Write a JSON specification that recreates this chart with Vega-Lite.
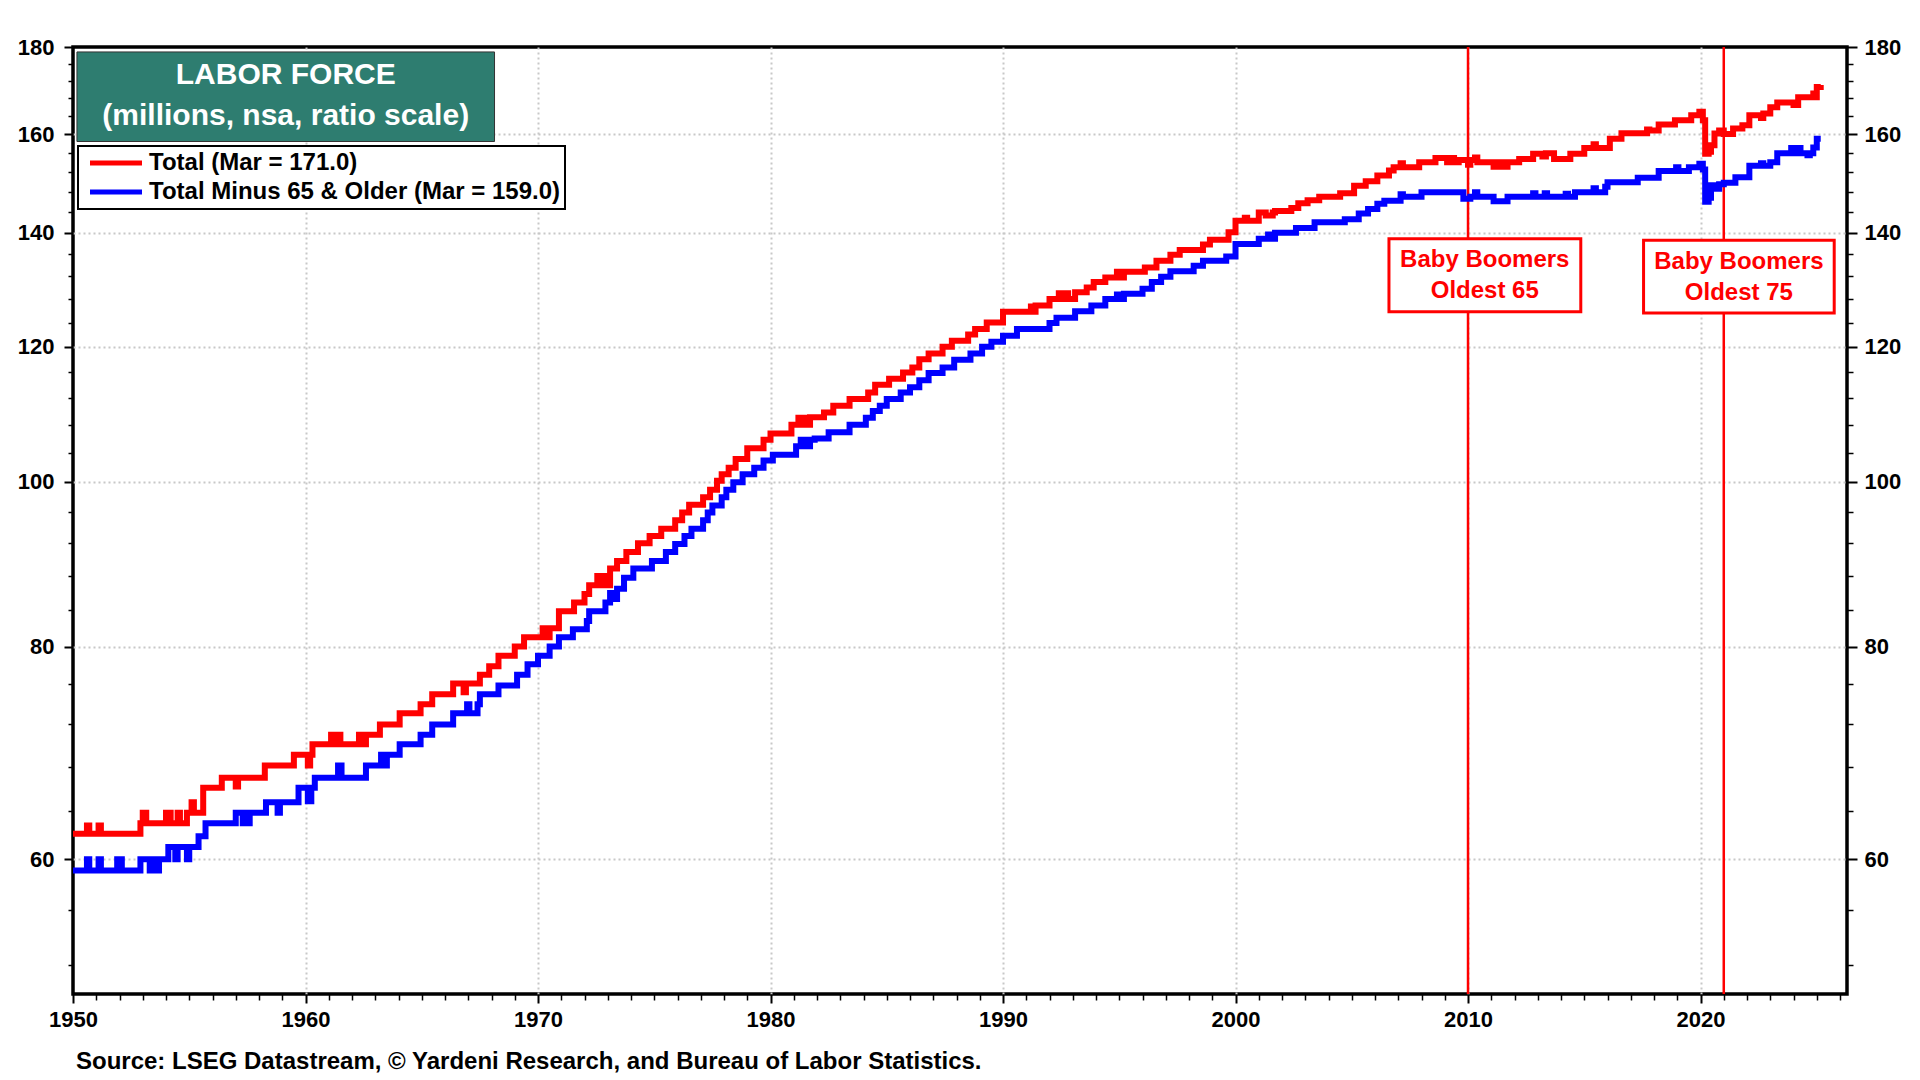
{
  "$schema": "https://vega.github.io/schema/vega-lite/v6.json",
  "width": 1774,
  "height": 947,
  "autosize": {"type": "none"},
  "padding": {"left": 73, "top": 47, "right": 73, "bottom": 86},
  "background": "white",
  "title": {
    "text": "Source: LSEG Datastream, © Yardeni Research, and Bureau of Labor Statistics.",
    "orient": "bottom",
    "anchor": "start",
    "frame": "group",
    "font": "Liberation Sans",
    "fontSize": 24,
    "fontWeight": "bold",
    "color": "black",
    "offset": 20,
    "dx": 3
  },
  "datasets": {
    "labor": [
      {"series": "Total", "year": 1950.0, "value": 62.1},
      {"series": "Total", "year": 1950.6, "value": 62.8},
      {"series": "Total", "year": 1950.7, "value": 62.1},
      {"series": "Total", "year": 1951.1, "value": 62.8},
      {"series": "Total", "year": 1951.2, "value": 62.1},
      {"series": "Total", "year": 1952.9, "value": 63.0},
      {"series": "Total", "year": 1953.0, "value": 63.9},
      {"series": "Total", "year": 1953.15, "value": 63.0},
      {"series": "Total", "year": 1954.0, "value": 63.9},
      {"series": "Total", "year": 1954.2, "value": 63.0},
      {"series": "Total", "year": 1954.5, "value": 63.9},
      {"series": "Total", "year": 1954.6, "value": 63.0},
      {"series": "Total", "year": 1954.9, "value": 63.9},
      {"series": "Total", "year": 1955.1, "value": 64.8},
      {"series": "Total", "year": 1955.2, "value": 63.9},
      {"series": "Total", "year": 1955.6, "value": 66.1},
      {"series": "Total", "year": 1956.4, "value": 67.0},
      {"series": "Total", "year": 1957.0, "value": 66.2},
      {"series": "Total", "year": 1957.1, "value": 67.0},
      {"series": "Total", "year": 1958.25, "value": 68.1},
      {"series": "Total", "year": 1959.5, "value": 69.1},
      {"series": "Total", "year": 1960.1, "value": 68.1},
      {"series": "Total", "year": 1960.2, "value": 69.1},
      {"series": "Total", "year": 1960.3, "value": 70.1},
      {"series": "Total", "year": 1961.1, "value": 71.0},
      {"series": "Total", "year": 1961.3, "value": 70.1},
      {"series": "Total", "year": 1961.4, "value": 71.0},
      {"series": "Total", "year": 1961.5, "value": 70.1},
      {"series": "Total", "year": 1962.3, "value": 71.0},
      {"series": "Total", "year": 1962.5, "value": 70.1},
      {"series": "Total", "year": 1962.6, "value": 71.0},
      {"series": "Total", "year": 1963.2, "value": 72.0},
      {"series": "Total", "year": 1964.05, "value": 73.1},
      {"series": "Total", "year": 1964.95, "value": 74.0},
      {"series": "Total", "year": 1965.45, "value": 75.0},
      {"series": "Total", "year": 1966.35, "value": 76.1},
      {"series": "Total", "year": 1966.8, "value": 75.2},
      {"series": "Total", "year": 1966.9, "value": 76.1},
      {"series": "Total", "year": 1967.5, "value": 77.0},
      {"series": "Total", "year": 1967.9, "value": 77.9},
      {"series": "Total", "year": 1968.3, "value": 79.0},
      {"series": "Total", "year": 1969.0, "value": 80.0},
      {"series": "Total", "year": 1969.4, "value": 81.0},
      {"series": "Total", "year": 1970.2, "value": 82.0},
      {"series": "Total", "year": 1970.3, "value": 81.0},
      {"series": "Total", "year": 1970.5, "value": 82.0},
      {"series": "Total", "year": 1970.9, "value": 83.9},
      {"series": "Total", "year": 1971.55, "value": 84.9},
      {"series": "Total", "year": 1972.0, "value": 85.9},
      {"series": "Total", "year": 1972.2, "value": 86.9},
      {"series": "Total", "year": 1972.55, "value": 88.0},
      {"series": "Total", "year": 1972.65, "value": 86.9},
      {"series": "Total", "year": 1972.8, "value": 88.0},
      {"series": "Total", "year": 1972.9, "value": 86.9},
      {"series": "Total", "year": 1973.1, "value": 88.9},
      {"series": "Total", "year": 1973.4, "value": 89.8},
      {"series": "Total", "year": 1973.8, "value": 90.9},
      {"series": "Total", "year": 1974.3, "value": 92.0},
      {"series": "Total", "year": 1974.8, "value": 92.9},
      {"series": "Total", "year": 1975.3, "value": 93.8},
      {"series": "Total", "year": 1975.9, "value": 94.9},
      {"series": "Total", "year": 1976.2, "value": 95.9},
      {"series": "Total", "year": 1976.5, "value": 96.9},
      {"series": "Total", "year": 1977.1, "value": 97.9},
      {"series": "Total", "year": 1977.4, "value": 98.9},
      {"series": "Total", "year": 1977.7, "value": 100.1},
      {"series": "Total", "year": 1977.9, "value": 101.0},
      {"series": "Total", "year": 1978.2, "value": 101.9},
      {"series": "Total", "year": 1978.5, "value": 103.1},
      {"series": "Total", "year": 1979.0, "value": 104.6},
      {"series": "Total", "year": 1979.7, "value": 105.8},
      {"series": "Total", "year": 1980.0, "value": 106.7},
      {"series": "Total", "year": 1980.9, "value": 108.0},
      {"series": "Total", "year": 1981.2, "value": 109.0},
      {"series": "Total", "year": 1981.4, "value": 108.0},
      {"series": "Total", "year": 1981.5, "value": 109.0},
      {"series": "Total", "year": 1981.6, "value": 108.0},
      {"series": "Total", "year": 1981.7, "value": 109.1},
      {"series": "Total", "year": 1982.3, "value": 109.8},
      {"series": "Total", "year": 1982.7, "value": 110.8},
      {"series": "Total", "year": 1983.4, "value": 111.8},
      {"series": "Total", "year": 1984.2, "value": 112.8},
      {"series": "Total", "year": 1984.5, "value": 114.0},
      {"series": "Total", "year": 1985.1, "value": 114.9},
      {"series": "Total", "year": 1985.7, "value": 115.9},
      {"series": "Total", "year": 1986.1, "value": 116.7},
      {"series": "Total", "year": 1986.4, "value": 118.0},
      {"series": "Total", "year": 1986.8, "value": 118.9},
      {"series": "Total", "year": 1987.4, "value": 120.0},
      {"series": "Total", "year": 1987.8, "value": 121.0},
      {"series": "Total", "year": 1988.5, "value": 122.0},
      {"series": "Total", "year": 1988.8, "value": 122.9},
      {"series": "Total", "year": 1989.3, "value": 124.0},
      {"series": "Total", "year": 1990.0, "value": 125.8},
      {"series": "Total", "year": 1991.2, "value": 126.7},
      {"series": "Total", "year": 1991.3, "value": 125.8},
      {"series": "Total", "year": 1991.4, "value": 126.9},
      {"series": "Total", "year": 1992.0, "value": 128.0},
      {"series": "Total", "year": 1992.4, "value": 129.0},
      {"series": "Total", "year": 1992.5, "value": 128.0},
      {"series": "Total", "year": 1992.7, "value": 129.0},
      {"series": "Total", "year": 1992.8, "value": 128.0},
      {"series": "Total", "year": 1993.1, "value": 129.2},
      {"series": "Total", "year": 1993.6, "value": 130.0},
      {"series": "Total", "year": 1993.9, "value": 131.0},
      {"series": "Total", "year": 1994.4, "value": 131.8},
      {"series": "Total", "year": 1994.9, "value": 132.8},
      {"series": "Total", "year": 1995.0, "value": 131.8},
      {"series": "Total", "year": 1995.2, "value": 132.8},
      {"series": "Total", "year": 1996.1, "value": 133.6},
      {"series": "Total", "year": 1996.6, "value": 134.8},
      {"series": "Total", "year": 1997.2, "value": 135.9},
      {"series": "Total", "year": 1997.6, "value": 136.8},
      {"series": "Total", "year": 1998.6, "value": 137.8},
      {"series": "Total", "year": 1998.9, "value": 138.7},
      {"series": "Total", "year": 1999.7, "value": 140.1},
      {"series": "Total", "year": 2000.0, "value": 142.3},
      {"series": "Total", "year": 2000.4, "value": 142.9},
      {"series": "Total", "year": 2000.5, "value": 142.3},
      {"series": "Total", "year": 2001.0, "value": 143.9},
      {"series": "Total", "year": 2001.3, "value": 143.3},
      {"series": "Total", "year": 2001.6, "value": 143.9},
      {"series": "Total", "year": 2001.7, "value": 144.2},
      {"series": "Total", "year": 2002.4, "value": 144.8},
      {"series": "Total", "year": 2002.7, "value": 145.7},
      {"series": "Total", "year": 2003.1, "value": 146.3},
      {"series": "Total", "year": 2003.6, "value": 147.0},
      {"series": "Total", "year": 2004.5, "value": 147.7},
      {"series": "Total", "year": 2005.1, "value": 149.2},
      {"series": "Total", "year": 2005.6, "value": 150.1},
      {"series": "Total", "year": 2006.1, "value": 151.3},
      {"series": "Total", "year": 2006.6, "value": 152.3},
      {"series": "Total", "year": 2006.8, "value": 153.0},
      {"series": "Total", "year": 2007.1, "value": 153.8},
      {"series": "Total", "year": 2007.2, "value": 153.0},
      {"series": "Total", "year": 2007.9, "value": 154.0},
      {"series": "Total", "year": 2008.6, "value": 154.9},
      {"series": "Total", "year": 2009.1, "value": 154.0},
      {"series": "Total", "year": 2009.2, "value": 154.9},
      {"series": "Total", "year": 2009.4, "value": 154.0},
      {"series": "Total", "year": 2009.6, "value": 154.5},
      {"series": "Total", "year": 2010.0, "value": 153.5},
      {"series": "Total", "year": 2010.1, "value": 154.5},
      {"series": "Total", "year": 2010.3, "value": 155.0},
      {"series": "Total", "year": 2010.4, "value": 154.0},
      {"series": "Total", "year": 2011.1, "value": 153.1},
      {"series": "Total", "year": 2011.35, "value": 154.0},
      {"series": "Total", "year": 2011.45, "value": 153.1},
      {"series": "Total", "year": 2011.7, "value": 154.0},
      {"series": "Total", "year": 2012.2, "value": 154.7},
      {"series": "Total", "year": 2012.8, "value": 155.8},
      {"series": "Total", "year": 2013.2, "value": 155.2},
      {"series": "Total", "year": 2013.35, "value": 155.9},
      {"series": "Total", "year": 2013.7, "value": 154.7},
      {"series": "Total", "year": 2014.4, "value": 155.8},
      {"series": "Total", "year": 2015.0, "value": 157.0},
      {"series": "Total", "year": 2015.4, "value": 157.8},
      {"series": "Total", "year": 2015.5, "value": 157.0},
      {"series": "Total", "year": 2016.1, "value": 159.0},
      {"series": "Total", "year": 2016.6, "value": 160.2},
      {"series": "Total", "year": 2017.7, "value": 161.0},
      {"series": "Total", "year": 2017.8, "value": 160.8},
      {"series": "Total", "year": 2018.2, "value": 162.1},
      {"series": "Total", "year": 2018.9, "value": 163.0},
      {"series": "Total", "year": 2019.6, "value": 164.1},
      {"series": "Total", "year": 2019.95, "value": 164.9},
      {"series": "Total", "year": 2020.1, "value": 163.0},
      {"series": "Total", "year": 2020.2, "value": 155.8},
      {"series": "Total", "year": 2020.35, "value": 156.2},
      {"series": "Total", "year": 2020.45, "value": 157.6},
      {"series": "Total", "year": 2020.6, "value": 160.1},
      {"series": "Total", "year": 2020.8, "value": 160.8},
      {"series": "Total", "year": 2021.0, "value": 160.0},
      {"series": "Total", "year": 2021.4, "value": 161.2},
      {"series": "Total", "year": 2021.8, "value": 161.9},
      {"series": "Total", "year": 2022.1, "value": 164.1},
      {"series": "Total", "year": 2022.6, "value": 163.5},
      {"series": "Total", "year": 2022.7, "value": 164.5},
      {"series": "Total", "year": 2023.0, "value": 165.9},
      {"series": "Total", "year": 2023.3, "value": 167.0},
      {"series": "Total", "year": 2024.0, "value": 166.4},
      {"series": "Total", "year": 2024.2, "value": 168.2},
      {"series": "Total", "year": 2024.85, "value": 169.0},
      {"series": "Total", "year": 2024.9, "value": 168.2},
      {"series": "Total", "year": 2025.0, "value": 170.5},
      {"series": "Total", "year": 2025.17, "value": 171.0},
      {"series": "Minus65", "year": 1950.0, "value": 59.1},
      {"series": "Minus65", "year": 1950.6, "value": 60.0},
      {"series": "Minus65", "year": 1950.7, "value": 59.1},
      {"series": "Minus65", "year": 1951.1, "value": 60.0},
      {"series": "Minus65", "year": 1951.2, "value": 59.1},
      {"series": "Minus65", "year": 1951.9, "value": 60.0},
      {"series": "Minus65", "year": 1952.1, "value": 59.1},
      {"series": "Minus65", "year": 1952.9, "value": 60.0},
      {"series": "Minus65", "year": 1953.3, "value": 59.1},
      {"series": "Minus65", "year": 1953.4, "value": 60.0},
      {"series": "Minus65", "year": 1953.6, "value": 59.1},
      {"series": "Minus65", "year": 1953.7, "value": 60.0},
      {"series": "Minus65", "year": 1954.1, "value": 61.0},
      {"series": "Minus65", "year": 1954.4, "value": 60.0},
      {"series": "Minus65", "year": 1954.5, "value": 61.0},
      {"series": "Minus65", "year": 1954.9, "value": 60.0},
      {"series": "Minus65", "year": 1955.0, "value": 61.0},
      {"series": "Minus65", "year": 1955.4, "value": 61.9},
      {"series": "Minus65", "year": 1955.7, "value": 63.0},
      {"series": "Minus65", "year": 1957.0, "value": 63.9},
      {"series": "Minus65", "year": 1957.3, "value": 63.0},
      {"series": "Minus65", "year": 1957.4, "value": 63.9},
      {"series": "Minus65", "year": 1957.5, "value": 63.0},
      {"series": "Minus65", "year": 1957.6, "value": 63.9},
      {"series": "Minus65", "year": 1958.3, "value": 64.8},
      {"series": "Minus65", "year": 1958.8, "value": 63.9},
      {"series": "Minus65", "year": 1958.9, "value": 64.8},
      {"series": "Minus65", "year": 1959.7, "value": 66.1},
      {"series": "Minus65", "year": 1960.1, "value": 64.9},
      {"series": "Minus65", "year": 1960.25, "value": 66.1},
      {"series": "Minus65", "year": 1960.4, "value": 67.0},
      {"series": "Minus65", "year": 1961.4, "value": 68.1},
      {"series": "Minus65", "year": 1961.55, "value": 67.0},
      {"series": "Minus65", "year": 1962.6, "value": 68.1},
      {"series": "Minus65", "year": 1963.25, "value": 69.1},
      {"series": "Minus65", "year": 1963.4, "value": 68.1},
      {"series": "Minus65", "year": 1963.5, "value": 69.1},
      {"series": "Minus65", "year": 1964.05, "value": 70.1},
      {"series": "Minus65", "year": 1964.95, "value": 71.0},
      {"series": "Minus65", "year": 1965.45, "value": 72.0},
      {"series": "Minus65", "year": 1966.35, "value": 73.1},
      {"series": "Minus65", "year": 1966.95, "value": 74.0},
      {"series": "Minus65", "year": 1967.05, "value": 73.1},
      {"series": "Minus65", "year": 1967.4, "value": 74.0},
      {"series": "Minus65", "year": 1967.5, "value": 75.0},
      {"series": "Minus65", "year": 1968.3, "value": 75.9},
      {"series": "Minus65", "year": 1969.1, "value": 77.0},
      {"series": "Minus65", "year": 1969.55, "value": 78.1},
      {"series": "Minus65", "year": 1970.0, "value": 79.0},
      {"series": "Minus65", "year": 1970.5, "value": 80.0},
      {"series": "Minus65", "year": 1970.9, "value": 81.0},
      {"series": "Minus65", "year": 1971.5, "value": 81.9},
      {"series": "Minus65", "year": 1972.1, "value": 82.8},
      {"series": "Minus65", "year": 1972.2, "value": 83.9},
      {"series": "Minus65", "year": 1972.9, "value": 84.9},
      {"series": "Minus65", "year": 1973.1, "value": 86.0},
      {"series": "Minus65", "year": 1973.3, "value": 85.3},
      {"series": "Minus65", "year": 1973.4, "value": 86.5},
      {"series": "Minus65", "year": 1973.7, "value": 87.8},
      {"series": "Minus65", "year": 1974.1, "value": 88.9},
      {"series": "Minus65", "year": 1974.9, "value": 89.8},
      {"series": "Minus65", "year": 1975.5, "value": 90.9},
      {"series": "Minus65", "year": 1975.9, "value": 91.9},
      {"series": "Minus65", "year": 1976.3, "value": 92.9},
      {"series": "Minus65", "year": 1976.6, "value": 93.8},
      {"series": "Minus65", "year": 1977.1, "value": 94.9},
      {"series": "Minus65", "year": 1977.3, "value": 95.9},
      {"series": "Minus65", "year": 1977.5, "value": 96.8},
      {"series": "Minus65", "year": 1977.9, "value": 97.9},
      {"series": "Minus65", "year": 1978.1, "value": 98.9},
      {"series": "Minus65", "year": 1978.4, "value": 99.9},
      {"series": "Minus65", "year": 1978.8, "value": 101.0},
      {"series": "Minus65", "year": 1979.3, "value": 101.9},
      {"series": "Minus65", "year": 1979.7, "value": 102.9},
      {"series": "Minus65", "year": 1980.1, "value": 103.7},
      {"series": "Minus65", "year": 1981.1, "value": 104.9},
      {"series": "Minus65", "year": 1981.3, "value": 105.8},
      {"series": "Minus65", "year": 1981.4, "value": 104.9},
      {"series": "Minus65", "year": 1981.5, "value": 105.8},
      {"series": "Minus65", "year": 1981.6, "value": 104.9},
      {"series": "Minus65", "year": 1981.7, "value": 105.8},
      {"series": "Minus65", "year": 1981.9, "value": 106.0},
      {"series": "Minus65", "year": 1982.5, "value": 106.9},
      {"series": "Minus65", "year": 1983.4, "value": 108.0},
      {"series": "Minus65", "year": 1984.1, "value": 109.0},
      {"series": "Minus65", "year": 1984.4, "value": 110.0},
      {"series": "Minus65", "year": 1984.7, "value": 110.8},
      {"series": "Minus65", "year": 1985.0, "value": 111.8},
      {"series": "Minus65", "year": 1985.6, "value": 112.8},
      {"series": "Minus65", "year": 1986.0, "value": 113.6},
      {"series": "Minus65", "year": 1986.4, "value": 114.7},
      {"series": "Minus65", "year": 1986.8, "value": 115.8},
      {"series": "Minus65", "year": 1987.4, "value": 116.7},
      {"series": "Minus65", "year": 1987.9, "value": 117.9},
      {"series": "Minus65", "year": 1988.6, "value": 118.9},
      {"series": "Minus65", "year": 1989.1, "value": 120.0},
      {"series": "Minus65", "year": 1989.5, "value": 120.8},
      {"series": "Minus65", "year": 1990.0, "value": 121.8},
      {"series": "Minus65", "year": 1990.6, "value": 122.9},
      {"series": "Minus65", "year": 1992.0, "value": 123.9},
      {"series": "Minus65", "year": 1992.3, "value": 124.8},
      {"series": "Minus65", "year": 1993.1, "value": 125.9},
      {"series": "Minus65", "year": 1993.8, "value": 126.9},
      {"series": "Minus65", "year": 1994.4, "value": 128.0},
      {"series": "Minus65", "year": 1994.9, "value": 128.8},
      {"series": "Minus65", "year": 1995.0, "value": 128.0},
      {"series": "Minus65", "year": 1995.2, "value": 128.9},
      {"series": "Minus65", "year": 1996.0, "value": 129.8},
      {"series": "Minus65", "year": 1996.4, "value": 131.0},
      {"series": "Minus65", "year": 1996.8, "value": 131.9},
      {"series": "Minus65", "year": 1997.2, "value": 132.9},
      {"series": "Minus65", "year": 1998.2, "value": 133.9},
      {"series": "Minus65", "year": 1998.6, "value": 134.8},
      {"series": "Minus65", "year": 1999.6, "value": 135.6},
      {"series": "Minus65", "year": 2000.0, "value": 137.9},
      {"series": "Minus65", "year": 2001.0, "value": 138.9},
      {"series": "Minus65", "year": 2001.4, "value": 139.7},
      {"series": "Minus65", "year": 2001.5, "value": 138.9},
      {"series": "Minus65", "year": 2001.7, "value": 140.0},
      {"series": "Minus65", "year": 2002.6, "value": 140.9},
      {"series": "Minus65", "year": 2003.4, "value": 142.0},
      {"series": "Minus65", "year": 2004.7, "value": 142.6},
      {"series": "Minus65", "year": 2005.3, "value": 143.7},
      {"series": "Minus65", "year": 2005.7, "value": 144.6},
      {"series": "Minus65", "year": 2006.1, "value": 145.6},
      {"series": "Minus65", "year": 2006.4, "value": 146.2},
      {"series": "Minus65", "year": 2007.1, "value": 147.5},
      {"series": "Minus65", "year": 2007.2, "value": 147.0},
      {"series": "Minus65", "year": 2008.0, "value": 147.9},
      {"series": "Minus65", "year": 2009.8, "value": 146.6},
      {"series": "Minus65", "year": 2010.1, "value": 147.0},
      {"series": "Minus65", "year": 2010.3, "value": 147.9},
      {"series": "Minus65", "year": 2010.4, "value": 147.0},
      {"series": "Minus65", "year": 2011.1, "value": 146.1},
      {"series": "Minus65", "year": 2011.7, "value": 147.0},
      {"series": "Minus65", "year": 2012.8, "value": 147.7},
      {"series": "Minus65", "year": 2012.9, "value": 147.0},
      {"series": "Minus65", "year": 2013.3, "value": 147.7},
      {"series": "Minus65", "year": 2013.4, "value": 147.0},
      {"series": "Minus65", "year": 2014.2, "value": 147.6},
      {"series": "Minus65", "year": 2014.3, "value": 147.0},
      {"series": "Minus65", "year": 2014.6, "value": 147.9},
      {"series": "Minus65", "year": 2015.4, "value": 148.7},
      {"series": "Minus65", "year": 2015.5, "value": 147.9},
      {"series": "Minus65", "year": 2015.9, "value": 149.0},
      {"series": "Minus65", "year": 2016.0, "value": 149.9},
      {"series": "Minus65", "year": 2017.3, "value": 150.8},
      {"series": "Minus65", "year": 2018.2, "value": 152.2},
      {"series": "Minus65", "year": 2018.95, "value": 153.0},
      {"series": "Minus65", "year": 2019.05, "value": 152.2},
      {"series": "Minus65", "year": 2019.5, "value": 153.0},
      {"series": "Minus65", "year": 2019.95, "value": 153.7},
      {"series": "Minus65", "year": 2020.1, "value": 152.5},
      {"series": "Minus65", "year": 2020.2, "value": 146.0},
      {"series": "Minus65", "year": 2020.35, "value": 146.8},
      {"series": "Minus65", "year": 2020.45, "value": 149.3},
      {"series": "Minus65", "year": 2020.7, "value": 148.6},
      {"series": "Minus65", "year": 2020.8, "value": 149.5},
      {"series": "Minus65", "year": 2021.0, "value": 149.8},
      {"series": "Minus65", "year": 2021.5, "value": 150.9},
      {"series": "Minus65", "year": 2022.1, "value": 153.3},
      {"series": "Minus65", "year": 2022.6, "value": 153.8},
      {"series": "Minus65", "year": 2022.7, "value": 153.3},
      {"series": "Minus65", "year": 2023.0, "value": 154.0},
      {"series": "Minus65", "year": 2023.3, "value": 155.9},
      {"series": "Minus65", "year": 2023.9, "value": 157.0},
      {"series": "Minus65", "year": 2024.0, "value": 155.9},
      {"series": "Minus65", "year": 2024.2, "value": 157.0},
      {"series": "Minus65", "year": 2024.3, "value": 155.9},
      {"series": "Minus65", "year": 2024.6, "value": 155.5},
      {"series": "Minus65", "year": 2024.7, "value": 155.9},
      {"series": "Minus65", "year": 2024.85, "value": 157.1},
      {"series": "Minus65", "year": 2025.0, "value": 159.0},
      {"series": "Minus65", "year": 2025.17, "value": 159.0}
    ],
    "markers": [
      {"year": 2010, "event": "Baby Boomers Oldest 65"},
      {"year": 2021, "event": "Baby Boomers Oldest 75"}
    ],
    "one": [{}]
  },
  "resolve": {
    "scale": {"x": "shared", "y": "shared"},
    "axis": {"x": "independent", "y": "independent"}
  },
  "layer": [
    {
      "data": {"name": "markers"},
      "mark": {"type": "rule", "color": "#ff0000", "strokeWidth": 2.5},
      "encoding": {
        "x": {
          "field": "year", "type": "quantitative",
          "scale": {"type": "linear", "domain": [1950, 2026.3], "nice": false, "zero": false},
          "axis": {"orient": "bottom", "values": [1960,1970,1980,1990,2000,2010,2020], "labels": false, "ticks": false, "domain": false, "grid": true, "gridColor": "#c8c8c8", "gridDash": [2, 3], "gridWidth": 2, "title": null}
        }
      }
    },
    {
      "data": {"name": "labor"},
      "mark": {"type": "line", "strokeWidth": 6, "interpolate": "step-after"},
      "encoding": {
        "x": {
          "field": "year", "type": "quantitative",
          "scale": {"type": "linear", "domain": [1950, 2026.3], "nice": false, "zero": false},
          "axis": {"orient": "bottom", "values": [1950,1960,1970,1980,1990,2000,2010,2020], "format": "d", "grid": false, "domain": false, "tickSize": 9, "tickWidth": 2, "tickColor": "black", "labelPadding": 6, "labelFont": "Liberation Sans", "labelFontSize": 22, "labelFontWeight": "bold", "labelColor": "black", "labelFlush": false, "labelOverlap": false, "title": null}
        },
        "y": {
          "field": "value", "type": "quantitative",
          "scale": {"type": "log", "domain": [50, 180], "nice": false},
          "axis": {"orient": "left", "values": [60,80,100,120,140,160,180], "grid": false, "domain": false, "tickSize": 9, "tickWidth": 2, "tickColor": "black", "labelPadding": 10, "labelFont": "Liberation Sans", "labelFontSize": 22, "labelFontWeight": "bold", "labelColor": "black", "labelOverlap": false, "title": null}
        },
        "color": {
          "field": "series", "type": "nominal",
          "scale": {"domain": ["Total", "Minus65"], "range": ["#ff0000", "#0000ff"]},
          "legend": {
            "orient": "none", "legendX": 5, "legendY": 99, "title": null,
            "labelExpr": "datum.value == 'Total' ? 'Total (Mar = 171.0)' : '\u2005Total Minus 65 & Older (Mar = 159.0)\u2005\u2005'"
          }
        }
      }
    },
    {
      "data": {"name": "one"},
      "mark": {"type": "rect", "fill": "#2e7d70", "stroke": "#333333", "strokeWidth": 1},
      "encoding": {
        "x": {
          "datum": 1950.17, "type": "quantitative",
          "scale": {"type": "linear", "domain": [1950, 2026.3], "nice": false, "zero": false},
          "axis": {"orient": "bottom", "values": [1951,1952,1953,1954,1955,1956,1957,1958,1959,1961,1962,1963,1964,1965,1966,1967,1968,1969,1971,1972,1973,1974,1975,1976,1977,1978,1979,1981,1982,1983,1984,1985,1986,1987,1988,1989,1991,1992,1993,1994,1995,1996,1997,1998,1999,2001,2002,2003,2004,2005,2006,2007,2008,2009,2011,2012,2013,2014,2015,2016,2017,2018,2019,2021,2022,2023,2024,2025,2026], "labels": false, "grid": false, "domain": false, "tickSize": 6, "tickWidth": 1.5, "tickColor": "black", "title": null}
        },
        "x2": {"datum": 1968.13},
        "y": {
          "datum": 178.8, "type": "quantitative",
          "scale": {"type": "log", "domain": [50, 180], "nice": false},
          "axis": {"orient": "left", "values": [52,56,64,68,72,76,84,88,92,96,104,108,112,116,124,128,132,136,144,148,152,156,164,168,172,176], "labels": false, "grid": false, "domain": false, "tickSize": 5, "tickWidth": 1.5, "tickColor": "black", "title": null}
        },
        "y2": {"datum": 158.4}
      }
    },
    {
      "data": {"name": "one"},
      "mark": {"type": "text", "text": ["LABOR FORCE", "(millions, nsa, ratio scale)"], "font": "Liberation Sans", "fontSize": 30, "fontWeight": "bold", "color": "white", "align": "center", "baseline": "middle", "lineHeight": 41},
      "encoding": {
        "x": {"datum": 1959.15, "type": "quantitative", "scale": {"type": "linear", "domain": [1950, 2026.3], "nice": false, "zero": false}, "axis": null},
        "y": {
          "datum": 173.2, "type": "quantitative",
          "scale": {"type": "log", "domain": [50, 180], "nice": false},
          "axis": {"orient": "right", "values": [52,56,64,68,72,76,84,88,92,96,104,108,112,116,124,128,132,136,144,148,152,156,164,168,172,176], "labels": false, "grid": false, "domain": false, "tickSize": 6, "tickWidth": 1.5, "tickColor": "black", "title": null}
        }
      }
    },
    {
      "data": {"name": "one"},
      "mark": {"type": "rect", "fill": "white", "stroke": "#ff0000", "strokeWidth": 3},
      "encoding": {
        "x": {"datum": 2006.6, "type": "quantitative", "scale": {"type": "linear", "domain": [1950, 2026.3], "nice": false, "zero": false}, "axis": null},
        "x2": {"datum": 2014.85},
        "y": {
          "datum": 138.9, "type": "quantitative",
          "scale": {"type": "log", "domain": [50, 180], "nice": false},
          "axis": {"orient": "right", "values": [60,80,100,120,140,160,180], "grid": false, "domain": false, "tickSize": 10, "tickWidth": 2, "tickColor": "black", "labelPadding": 7, "labelFont": "Liberation Sans", "labelFontSize": 22, "labelFontWeight": "bold", "labelColor": "black", "labelOverlap": false, "title": null}
        },
        "y2": {"datum": 125.8}
      }
    },
    {
      "data": {"name": "one"},
      "mark": {"type": "rect", "fill": "white", "stroke": "#ff0000", "strokeWidth": 3},
      "encoding": {
        "x": {"datum": 2017.55, "type": "quantitative", "scale": {"type": "linear", "domain": [1950, 2026.3], "nice": false, "zero": false}, "axis": null},
        "x2": {"datum": 2025.75},
        "y": {
          "datum": 138.6, "type": "quantitative",
          "scale": {"type": "log", "domain": [50, 180], "nice": false},
          "axis": {"orient": "left", "values": [60,80,100,120,140,160], "labels": false, "ticks": false, "domain": false, "grid": true, "gridColor": "#c8c8c8", "gridDash": [2, 3], "gridWidth": 2, "title": null}
        },
        "y2": {"datum": 125.6}
      }
    },
    {
      "data": {"name": "one"},
      "mark": {"type": "text", "text": ["Baby Boomers", "Oldest 65"], "font": "Liberation Sans", "fontSize": 24, "fontWeight": "bold", "color": "#ff0000", "align": "center", "baseline": "middle", "lineHeight": 31},
      "encoding": {
        "x": {"datum": 2010.72, "type": "quantitative", "scale": {"type": "linear", "domain": [1950, 2026.3], "nice": false, "zero": false}, "axis": null},
        "y": {"datum": 134.9, "type": "quantitative", "scale": {"type": "log", "domain": [50, 180], "nice": false}, "axis": null}
      }
    },
    {
      "data": {"name": "one"},
      "mark": {"type": "text", "text": ["Baby Boomers", "Oldest 75"], "font": "Liberation Sans", "fontSize": 24, "fontWeight": "bold", "color": "#ff0000", "align": "center", "baseline": "middle", "lineHeight": 31},
      "encoding": {
        "x": {"datum": 2021.65, "type": "quantitative", "scale": {"type": "linear", "domain": [1950, 2026.3], "nice": false, "zero": false}, "axis": null},
        "y": {"datum": 134.5, "type": "quantitative", "scale": {"type": "log", "domain": [50, 180], "nice": false}, "axis": null}
      }
    }
  ],
  "config": {
    "view": {"stroke": "black", "strokeWidth": 3.5},
    "legend": {
      "fillColor": "white",
      "strokeColor": "black",
      "strokeWidth": 2,
      "padding": 5,
      "cornerRadius": 0,
      "symbolType": "M-1,0H9.4",
      "symbolSize": 100,
      "symbolStrokeWidth": 5,
      "labelFont": "Liberation Sans",
      "labelFontSize": 24,
      "labelFontWeight": "bold",
      "labelColor": "black",
      "labelLimit": 700,
      "labelOffset": 42,
      "rowPadding": 5
    }
  }
}
